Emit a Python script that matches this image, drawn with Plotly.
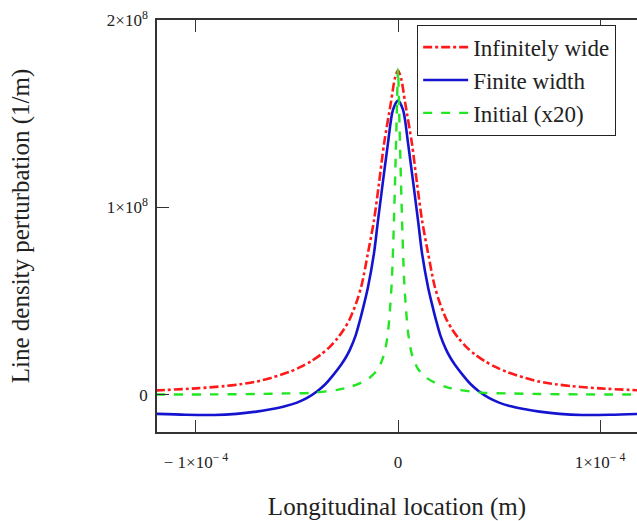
import plotly.graph_objects as go

# x positions in units of 1e-4 m, values in units of 1e8 1/m
red_x = [-1.2, -1.0, -0.86, -0.78, -0.70, -0.62, -0.535, -0.485, -0.43, -0.38, -0.34, -0.30, -0.27, -0.238, -0.205, -0.18, -0.149, -0.119, -0.095, -0.069, -0.035, -0.015, 0.0,
         0.015, 0.035, 0.069, 0.095, 0.119, 0.149, 0.18, 0.205, 0.238, 0.27, 0.30, 0.34, 0.38, 0.43, 0.485, 0.535, 0.62, 0.70, 0.78, 0.86, 1.0, 1.2]
red_y = [0.022, 0.033, 0.045, 0.055, 0.069, 0.092, 0.122, 0.146, 0.178, 0.215, 0.252, 0.30, 0.345, 0.405, 0.495, 0.585, 0.754, 0.93, 1.12, 1.34, 1.56, 1.69, 1.73,
         1.69, 1.56, 1.34, 1.12, 0.93, 0.754, 0.585, 0.495, 0.405, 0.345, 0.30, 0.252, 0.215, 0.178, 0.146, 0.122, 0.092, 0.069, 0.055, 0.045, 0.033, 0.022]

blue_x = [-1.2, -1.05, -0.91, -0.80, -0.70, -0.63, -0.56, -0.50, -0.45, -0.40, -0.36, -0.32, -0.28, -0.26, -0.238, -0.21, -0.19, -0.17, -0.149, -0.119, -0.099, -0.05, -0.025, 0.0,
          0.025, 0.05, 0.099, 0.119, 0.149, 0.17, 0.19, 0.21, 0.238, 0.26, 0.28, 0.32, 0.36, 0.40, 0.45, 0.50, 0.56, 0.63, 0.70, 0.80, 0.91, 1.05, 1.2]
blue_y = [-0.103, -0.108, -0.109, -0.103, -0.091, -0.079, -0.063, -0.043, -0.018, 0.018, 0.055, 0.105, 0.162, 0.195, 0.24, 0.315, 0.39, 0.475, 0.572, 0.754, 0.93, 1.34, 1.52, 1.57,
          1.52, 1.34, 0.93, 0.754, 0.572, 0.475, 0.39, 0.315, 0.24, 0.195, 0.162, 0.105, 0.055, 0.018, -0.018, -0.043, -0.063, -0.079, -0.091, -0.103, -0.109, -0.108, -0.103]

green_x = [-1.2, -0.9, -0.70, -0.55, -0.416, -0.30, -0.24, -0.18, -0.14, -0.10, -0.08, -0.065, -0.05, -0.04, -0.03, -0.02, -0.012, -0.006, 0.0,
           0.006, 0.012, 0.02, 0.03, 0.04, 0.05, 0.065, 0.08, 0.10, 0.14, 0.18, 0.24, 0.30, 0.416, 0.55, 0.70, 0.9, 1.2]
green_y = [0.0, 0.001, 0.003, 0.006, 0.01, 0.025, 0.04, 0.065, 0.09, 0.135, 0.18, 0.23, 0.33, 0.45, 0.62, 0.93, 1.25, 1.50, 1.74,
           1.50, 1.25, 0.93, 0.62, 0.45, 0.33, 0.23, 0.18, 0.135, 0.09, 0.065, 0.04, 0.025, 0.01, 0.006, 0.003, 0.001, 0.0]

x_tickvals = [-1e-4, 0, 1e-4]
x_ticktext = ["\u2212 1\u00d710<sup>\u2212 4</sup>", "0", "1\u00d710<sup>\u2212 4</sup>"]
y_tickvals = [0, 1e8, 2e8]
y_ticktext = ["0", "1\u00d710<sup>8</sup>", "2\u00d710<sup>8</sup>"]

XS, YS = 1e-4, 1e8
FONT = "Liberation Serif, Times New Roman, serif"

fig = go.Figure()
fig.add_trace(go.Scatter(x=[v * XS for v in red_x], y=[v * YS for v in red_y], mode="lines",
                         name="Infinitely wide", line=dict(color="#ff1a1a", width=2.6, dash="dashdot", shape="spline", smoothing=0.8)))
fig.add_trace(go.Scatter(x=[v * XS for v in blue_x], y=[v * YS for v in blue_y], mode="lines",
                         name="Finite width", line=dict(color="#1414d0", width=2.6, shape="spline", smoothing=0.8)))
fig.add_trace(go.Scatter(x=[v * XS for v in green_x], y=[v * YS for v in green_y], mode="lines",
                         name="Initial (x20)", line=dict(color="#22e622", width=2.4, dash="dash", shape="spline", smoothing=0.8)))

fig.update_layout(
    width=637, height=521,
    margin=dict(l=157, r=0, t=20, b=89),
    paper_bgcolor="white", plot_bgcolor="white",
    font=dict(family=FONT, size=17, color="#222"),
    showlegend=True,
    legend=dict(x=0.542, y=0.854, xanchor="left", yanchor="middle",
                bordercolor="#222", borderwidth=1, bgcolor="white",
                font=dict(size=23, family=FONT, color="#222"), itemwidth=45,
                tracegroupgap=0),
)
fig.update_xaxes(range=[-1.193e-4, 1.183e-4], showgrid=False, zeroline=False,
                 showline=True, linecolor="#333", linewidth=1.5, mirror="ticks",
                 ticks="inside", ticklen=12, tickcolor="#333", tickwidth=1.2,
                 tickvals=x_tickvals, ticktext=x_ticktext, ticklabelstandoff=14,
                 tickfont=dict(family=FONT, size=17, color="#222"),
                 title=dict(text="Longitudinal location (m)", font=dict(size=25, family=FONT, color="#222"), standoff=27))
fig.update_yaxes(range=[-0.2e8, 2e8], showgrid=False, zeroline=False,
                 showline=True, linecolor="#333", linewidth=1.5, mirror=False,
                 ticks="inside", ticklen=12, tickcolor="#333", tickwidth=1.2,
                 tickvals=y_tickvals, ticktext=y_ticktext, ticklabelstandoff=4,
                 tickfont=dict(family=FONT, size=17, color="#222"),
                 title=dict(text="Line density perturbation (1/m)", font=dict(size=25, family=FONT, color="#222"), standoff=70))

fig.write_html("out.html")
